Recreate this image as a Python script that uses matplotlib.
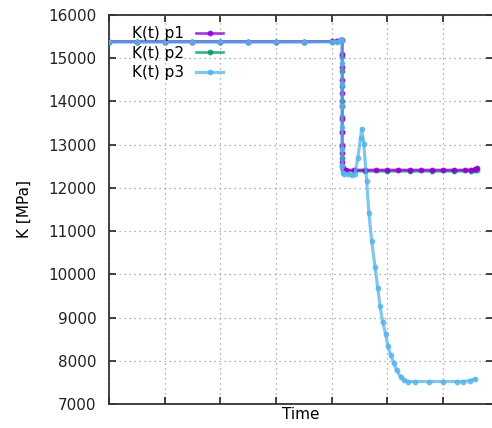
import matplotlib
matplotlib.use("Agg")
import matplotlib.pyplot as plt
from matplotlib.ticker import MultipleLocator, NullFormatter

# ---- data (Time in arbitrary units, K in MPa) ----
t_p1 = [0.0, 0.5, 1.0, 1.5, 2.0, 2.5, 3.0, 3.5, 4.0, 4.1, 4.16,
        4.19, 4.19, 4.19, 4.19, 4.19, 4.19, 4.19, 4.19, 4.19, 4.19, 4.19,
        4.2, 4.22, 4.25, 4.4, 4.6, 4.8, 5.0, 5.2, 5.4, 5.6, 5.8, 6.0,
        6.2, 6.4, 6.5, 6.58, 6.62]
k_p1 = [15385, 15385, 15385, 15385, 15385, 15385, 15385, 15385, 15390, 15395, 15425,
        15425, 15100, 14800, 14500, 14200, 13900, 13600, 13300, 13000, 12800, 12600,
        12460, 12415, 12415, 12415, 12415, 12415, 12415, 12415, 12415, 12415, 12415, 12415,
        12415, 12415, 12420, 12435, 12455]

t_p2 = [0.0, 0.5, 1.0, 1.5, 2.0, 2.5, 3.0, 3.5, 4.0, 4.1, 4.16,
        4.19, 4.19, 4.19, 4.19, 4.19, 4.19, 4.19, 4.19, 4.19, 4.19,
        4.2, 4.22, 4.25, 4.6, 5.0, 5.4, 5.8, 6.2, 6.5, 6.58, 6.62]
k_p2 = [15380, 15380, 15380, 15380, 15380, 15380, 15380, 15380, 15385, 15390, 15420,
        15420, 15050, 14700, 14350, 14000, 13650, 13300, 12950, 12700, 12500,
        12420, 12385, 12385, 12385, 12385, 12385, 12385, 12385, 12390, 12405, 12425]

t_p3 = [0.0, 0.5, 1.0, 1.5, 2.0, 2.5, 3.0, 3.5, 4.0, 4.1, 4.16,
        4.19, 4.19, 4.19, 4.19, 4.19, 4.19, 4.19, 4.2,
        4.22, 4.29, 4.36, 4.42, 4.47, 4.52, 4.54, 4.58,
        4.63, 4.67, 4.72, 4.78, 4.83, 4.87, 4.92, 4.97, 5.01, 5.06,
        5.12, 5.17, 5.24, 5.30, 5.37, 5.5, 5.75, 6.0, 6.25, 6.36, 6.48, 6.58]
k_p3 = [15375, 15375, 15375, 15375, 15375, 15375, 15375, 15375, 15380, 15385, 15415,
        15415, 14900, 14400, 13900, 13400, 12900, 12500, 12350,
        12330, 12320, 12290, 12330, 12690, 13150, 13370, 13010,
        12157, 11420, 10770, 10170, 9680, 9260, 8890, 8620, 8340, 8130,
        7940, 7780, 7620, 7550, 7520, 7520, 7520, 7520, 7520, 7520, 7540, 7580]

labels = ["K(t) p1", "K(t) p2", "K(t) p3"]
colors = ["#9400d3", "#009e73", "#56b4e9"]

fig = plt.figure(figsize=(4.92, 4.28), dpi=100)
ax = fig.add_axes([109 / 492, 24 / 428, 384 / 492, 389 / 428])

series = [(t_p1, k_p1), (t_p2, k_p2), (t_p3, k_p3)]
zorders = [3, 2, 4]
alphas = [0.8, 0.8, 0.75]
widths = [1.9, 1.9, 2.3]
handles = []
for (t, k), lab, c, z, a, w in zip(series, labels, colors, zorders, alphas, widths):
    h, = ax.plot(t, k, color=c, lw=w, marker='o', ms=3.2, alpha=a,
                 label=lab, zorder=z)
    handles.append(h)

ax.set_xlim(0, 6.9)
ax.set_ylim(7000, 16000)
ax.xaxis.set_major_locator(MultipleLocator(1))
ax.xaxis.set_major_formatter(NullFormatter())
ax.yaxis.set_major_locator(MultipleLocator(1000))
ax.tick_params(direction='in', top=True, right=True, length=5, width=1.2,
               labelsize=11, colors='#222222', pad=9)
ax.tick_params(axis='x', pad=2)
for s in ax.spines.values():
    s.set_linewidth(1.3)
    s.set_color('#333333')
ax.grid(True, linestyle=(0, (1, 3)), color='#999999', lw=0.9)
ax.set_axisbelow(True)

ax.set_xlabel("Time", fontsize=11, labelpad=0)
ax.set_ylabel("K [MPa]", fontsize=11, labelpad=12)

leg = ax.legend(handles=handles, loc='upper left', frameon=False, markerfirst=False,
                fontsize=11, handlelength=1.8, labelspacing=0.3,
                bbox_to_anchor=(0.035, 0.995), borderaxespad=0.2)

fig.savefig("out.png", dpi=100)
